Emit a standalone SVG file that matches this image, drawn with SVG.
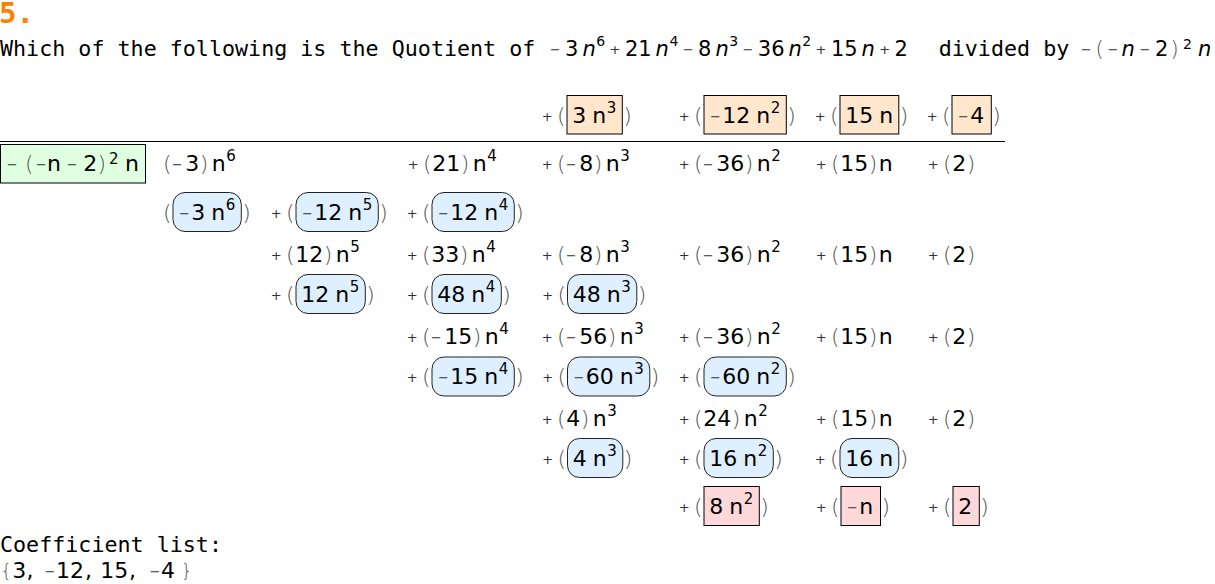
<svg xmlns="http://www.w3.org/2000/svg" width="1215" height="584" viewBox="0 0 1215 584">
<style>
.bg{fill:#fff}
.m{font-family:'DejaVu Sans','Liberation Sans',sans-serif;font-size:22px;fill:#000}
.m2{font-family:'DejaVu Sans','Liberation Sans',sans-serif;font-size:21px;fill:#000}
.o{font-size:13px;fill:#333}
.p{font-size:22px;fill:#555;font-weight:200}
.p2{font-size:21px;fill:#555;font-weight:200}
.br{font-size:18px;fill:#555;font-weight:200}
.s{font-size:15px}
.s2{font-size:14px}
.i{font-style:italic}
.t{font-family:'DejaVu Sans Mono','Liberation Mono',monospace;font-size:21.7px;fill:#000}
.h{font-family:'DejaVu Sans Mono','Liberation Mono',monospace;font-size:29px;font-weight:bold;fill:#FF8000}
.q{fill:#FFE6CC;stroke:#000;stroke-width:1}
.g{fill:#E0FFE0;stroke:#000;stroke-width:1}
.b{fill:#DEEFFF;stroke:#222;stroke-width:1}
.r{fill:#FFD9D9;stroke:#000;stroke-width:1}
.rule{stroke:#000;stroke-width:1}
</style>
<rect class="bg" x="0" y="0" width="1215" height="584"/>

<g id="header">
<text class="h" x="-1" y="23">5.</text>
<text class="t" x="0" y="56">Which of the following is the Quotient of</text>
<text class="m2"><tspan class="o" x="549.8" y="54">−</tspan><tspan x="565.1" y="56">3</tspan><tspan class="i" x="582.5" y="56">n</tspan><tspan class="s2" x="596.3" y="45.5">6</tspan><tspan class="o" x="609.6" y="54">+</tspan><tspan x="624.9" y="56">21</tspan><tspan class="i" x="655.6" y="56">n</tspan><tspan class="s2" x="669.4" y="45.5">4</tspan><tspan class="o" x="682.7" y="54">−</tspan><tspan x="698" y="56">8</tspan><tspan class="i" x="715.4" y="56">n</tspan><tspan class="s2" x="729.2" y="45.5">3</tspan><tspan class="o" x="742.5" y="54">−</tspan><tspan x="757.8" y="56">36</tspan><tspan class="i" x="788.5" y="56">n</tspan><tspan class="s2" x="802.3" y="45.5">2</tspan><tspan class="o" x="815.6" y="54">+</tspan><tspan x="830.9" y="56">15</tspan><tspan class="i" x="861.6" y="56">n</tspan><tspan class="o" x="879.3" y="54">+</tspan><tspan x="894.6" y="56">2</tspan></text>
<text class="t" x="938.7" y="56">divided by</text>
<text class="m2"><tspan class="o" x="1080.8" y="54">−</tspan><tspan class="p2" x="1095.5" y="56">(</tspan><tspan class="o" x="1107.5" y="54">−</tspan><tspan class="i" x="1121.5" y="56">n</tspan><tspan class="o" x="1139.5" y="54">−</tspan><tspan x="1155" y="56">2</tspan><tspan class="p2" x="1170.5" y="56">)</tspan><tspan class="s2" x="1183" y="48.5">2</tspan><tspan class="i" x="1198" y="56">n</tspan></text>
</g>

<g id="quotient">
<rect class="q" x="567" y="95.5" width="55.3" height="38.5"/>
<rect class="q" x="704" y="95.5" width="82.3" height="38.5"/>
<rect class="q" x="840" y="95.5" width="58.8" height="38.5"/>
<rect class="q" x="952" y="95.5" width="39.3" height="38.5"/>
<text class="m"><tspan class="o" x="541.7" y="121">+</tspan><tspan class="p" x="557.1" y="123">(</tspan><tspan x="572.3" y="123">3</tspan><tspan x="592.3" y="123">n</tspan><tspan class="s" x="606.8" y="112.5">3</tspan><tspan class="p" x="623.3" y="123">)</tspan></text>
<text class="m"><tspan class="o" x="678.7" y="121">+</tspan><tspan class="p" x="694.1" y="123">(</tspan><tspan class="o" x="710" y="121">−</tspan><tspan x="722.3" y="123">12</tspan><tspan x="756.3" y="123">n</tspan><tspan class="s" x="770.8" y="112.5">2</tspan><tspan class="p" x="787.3" y="123">)</tspan></text>
<text class="m"><tspan class="o" x="814.7" y="121">+</tspan><tspan class="p" x="830.1" y="123">(</tspan><tspan x="845.3" y="123">15</tspan><tspan x="879.3" y="123">n</tspan><tspan class="p" x="899.8" y="123">)</tspan></text>
<text class="m"><tspan class="o" x="926.7" y="121">+</tspan><tspan class="p" x="942.1" y="123">(</tspan><tspan class="o" x="958" y="121">−</tspan><tspan x="970.3" y="123">4</tspan><tspan class="p" x="992.3" y="123">)</tspan></text>
</g>

<line class="rule" x1="0" y1="141.5" x2="1005" y2="141.5"/>

<g id="divisor">
<rect class="g" x="0.5" y="144.5" width="145" height="38.5"/>
<text class="m"><tspan class="o" x="6.7" y="169">−</tspan><tspan class="p" x="25.1" y="171">(</tspan><tspan class="o" x="35.7" y="169">−</tspan><tspan x="47" y="171">n</tspan><tspan class="o" x="66.7" y="169">−</tspan><tspan x="83.3" y="171">2</tspan><tspan class="p" x="97.5" y="171">)</tspan><tspan class="s" x="109" y="163.5">2</tspan><tspan x="125" y="171">n</tspan></text>
</g>

<g id="dividend">
<text class="m"><tspan class="p" x="163.1" y="171">(</tspan><tspan class="o" x="171.8" y="169">−</tspan><tspan x="185.3" y="171">3</tspan><tspan class="p" x="199.8" y="171">)</tspan><tspan x="211.8" y="171">n</tspan><tspan class="s" x="226.3" y="160.5">6</tspan></text>
<text class="m"><tspan class="o" x="407.7" y="169">+</tspan><tspan class="p" x="423.1" y="171">(</tspan><tspan x="432.3" y="171">21</tspan><tspan class="p" x="460.8" y="171">)</tspan><tspan x="472.8" y="171">n</tspan><tspan class="s" x="487.3" y="160.5">4</tspan></text>
<text class="m"><tspan class="o" x="541.7" y="169">+</tspan><tspan class="p" x="557.1" y="171">(</tspan><tspan class="o" x="565.8" y="169">−</tspan><tspan x="579.3" y="171">8</tspan><tspan class="p" x="593.8" y="171">)</tspan><tspan x="605.8" y="171">n</tspan><tspan class="s" x="620.3" y="160.5">3</tspan></text>
<text class="m"><tspan class="o" x="678.7" y="169">+</tspan><tspan class="p" x="694.1" y="171">(</tspan><tspan class="o" x="702.8" y="169">−</tspan><tspan x="716.3" y="171">36</tspan><tspan class="p" x="744.8" y="171">)</tspan><tspan x="756.8" y="171">n</tspan><tspan class="s" x="771.3" y="160.5">2</tspan></text>
<text class="m"><tspan class="o" x="815.7" y="169">+</tspan><tspan class="p" x="831.1" y="171">(</tspan><tspan x="840.3" y="171">15</tspan><tspan class="p" x="868.8" y="171">)</tspan><tspan x="878.8" y="171">n</tspan></text>
<text class="m"><tspan class="o" x="927.7" y="169">+</tspan><tspan class="p" x="943.1" y="171">(</tspan><tspan x="952.3" y="171">2</tspan><tspan class="p" x="966.8" y="171">)</tspan></text>
</g>

<g id="step1">
<rect class="b" x="173" y="192.5" width="68.3" height="39" rx="12"/>
<rect class="b" x="296" y="192.5" width="82.3" height="39" rx="12"/>
<rect class="b" x="432" y="192.5" width="82.3" height="39" rx="12"/>
<text class="m"><tspan class="p" x="163.1" y="220">(</tspan><tspan class="o" x="179" y="218">−</tspan><tspan x="191.3" y="220">3</tspan><tspan x="211.3" y="220">n</tspan><tspan class="s" x="225.8" y="209.5">6</tspan><tspan class="p" x="242.3" y="220">)</tspan></text>
<text class="m"><tspan class="o" x="270.7" y="218">+</tspan><tspan class="p" x="286.1" y="220">(</tspan><tspan class="o" x="302" y="218">−</tspan><tspan x="314.3" y="220">12</tspan><tspan x="348.3" y="220">n</tspan><tspan class="s" x="362.8" y="209.5">5</tspan><tspan class="p" x="379.3" y="220">)</tspan></text>
<text class="m"><tspan class="o" x="406.7" y="218">+</tspan><tspan class="p" x="422.1" y="220">(</tspan><tspan class="o" x="438" y="218">−</tspan><tspan x="450.3" y="220">12</tspan><tspan x="484.3" y="220">n</tspan><tspan class="s" x="498.8" y="209.5">4</tspan><tspan class="p" x="515.3" y="220">)</tspan></text>
</g>

<g id="remainder1">
<text class="m"><tspan class="o" x="270.7" y="260">+</tspan><tspan class="p" x="286.1" y="262">(</tspan><tspan x="295.3" y="262">12</tspan><tspan class="p" x="323.8" y="262">)</tspan><tspan x="335.8" y="262">n</tspan><tspan class="s" x="350.3" y="251.5">5</tspan></text>
<text class="m"><tspan class="o" x="406.7" y="260">+</tspan><tspan class="p" x="422.1" y="262">(</tspan><tspan x="431.3" y="262">33</tspan><tspan class="p" x="459.8" y="262">)</tspan><tspan x="471.8" y="262">n</tspan><tspan class="s" x="486.3" y="251.5">4</tspan></text>
<text class="m"><tspan class="o" x="541.7" y="260">+</tspan><tspan class="p" x="557.1" y="262">(</tspan><tspan class="o" x="565.8" y="260">−</tspan><tspan x="579.3" y="262">8</tspan><tspan class="p" x="593.8" y="262">)</tspan><tspan x="605.8" y="262">n</tspan><tspan class="s" x="620.3" y="251.5">3</tspan></text>
<text class="m"><tspan class="o" x="678.7" y="260">+</tspan><tspan class="p" x="694.1" y="262">(</tspan><tspan class="o" x="702.8" y="260">−</tspan><tspan x="716.3" y="262">36</tspan><tspan class="p" x="744.8" y="262">)</tspan><tspan x="756.8" y="262">n</tspan><tspan class="s" x="771.3" y="251.5">2</tspan></text>
<text class="m"><tspan class="o" x="815.7" y="260">+</tspan><tspan class="p" x="831.1" y="262">(</tspan><tspan x="840.3" y="262">15</tspan><tspan class="p" x="868.8" y="262">)</tspan><tspan x="878.8" y="262">n</tspan></text>
<text class="m"><tspan class="o" x="927.7" y="260">+</tspan><tspan class="p" x="943.1" y="262">(</tspan><tspan x="952.3" y="262">2</tspan><tspan class="p" x="966.8" y="262">)</tspan></text>
</g>

<g id="step2">
<rect class="b" x="296" y="274.5" width="69.3" height="39" rx="12"/>
<rect class="b" x="432" y="274.5" width="69.3" height="39" rx="12"/>
<rect class="b" x="567.5" y="274.5" width="69.3" height="39" rx="12"/>
<text class="m"><tspan class="o" x="270.7" y="300">+</tspan><tspan class="p" x="286.1" y="302">(</tspan><tspan x="301.3" y="302">12</tspan><tspan x="335.3" y="302">n</tspan><tspan class="s" x="349.8" y="291.5">5</tspan><tspan class="p" x="366.3" y="302">)</tspan></text>
<text class="m"><tspan class="o" x="406.7" y="300">+</tspan><tspan class="p" x="422.1" y="302">(</tspan><tspan x="437.3" y="302">48</tspan><tspan x="471.3" y="302">n</tspan><tspan class="s" x="485.8" y="291.5">4</tspan><tspan class="p" x="502.3" y="302">)</tspan></text>
<text class="m"><tspan class="o" x="542.2" y="300">+</tspan><tspan class="p" x="557.6" y="302">(</tspan><tspan x="572.8" y="302">48</tspan><tspan x="606.8" y="302">n</tspan><tspan class="s" x="621.3" y="291.5">3</tspan><tspan class="p" x="637.8" y="302">)</tspan></text>
</g>

<g id="remainder2">
<text class="m"><tspan class="o" x="406.7" y="342">+</tspan><tspan class="p" x="422.1" y="344">(</tspan><tspan class="o" x="430.8" y="342">−</tspan><tspan x="444.3" y="344">15</tspan><tspan class="p" x="472.8" y="344">)</tspan><tspan x="484.8" y="344">n</tspan><tspan class="s" x="499.3" y="333.5">4</tspan></text>
<text class="m"><tspan class="o" x="541.7" y="342">+</tspan><tspan class="p" x="557.1" y="344">(</tspan><tspan class="o" x="565.8" y="342">−</tspan><tspan x="579.3" y="344">56</tspan><tspan class="p" x="607.8" y="344">)</tspan><tspan x="619.8" y="344">n</tspan><tspan class="s" x="634.3" y="333.5">3</tspan></text>
<text class="m"><tspan class="o" x="678.7" y="342">+</tspan><tspan class="p" x="694.1" y="344">(</tspan><tspan class="o" x="702.8" y="342">−</tspan><tspan x="716.3" y="344">36</tspan><tspan class="p" x="744.8" y="344">)</tspan><tspan x="756.8" y="344">n</tspan><tspan class="s" x="771.3" y="333.5">2</tspan></text>
<text class="m"><tspan class="o" x="815.7" y="342">+</tspan><tspan class="p" x="831.1" y="344">(</tspan><tspan x="840.3" y="344">15</tspan><tspan class="p" x="868.8" y="344">)</tspan><tspan x="878.8" y="344">n</tspan></text>
<text class="m"><tspan class="o" x="927.7" y="342">+</tspan><tspan class="p" x="943.1" y="344">(</tspan><tspan x="952.3" y="344">2</tspan><tspan class="p" x="966.8" y="344">)</tspan></text>
</g>

<g id="step3">
<rect class="b" x="432" y="357" width="82.3" height="39" rx="12"/>
<rect class="b" x="567.5" y="357" width="82.3" height="39" rx="12"/>
<rect class="b" x="704" y="357" width="82.3" height="39" rx="12"/>
<text class="m"><tspan class="o" x="406.7" y="382">+</tspan><tspan class="p" x="422.1" y="384">(</tspan><tspan class="o" x="438" y="382">−</tspan><tspan x="450.3" y="384">15</tspan><tspan x="484.3" y="384">n</tspan><tspan class="s" x="498.8" y="373.5">4</tspan><tspan class="p" x="515.3" y="384">)</tspan></text>
<text class="m"><tspan class="o" x="542.2" y="382">+</tspan><tspan class="p" x="557.6" y="384">(</tspan><tspan class="o" x="573.5" y="382">−</tspan><tspan x="585.8" y="384">60</tspan><tspan x="619.8" y="384">n</tspan><tspan class="s" x="634.3" y="373.5">3</tspan><tspan class="p" x="650.8" y="384">)</tspan></text>
<text class="m"><tspan class="o" x="678.7" y="382">+</tspan><tspan class="p" x="694.1" y="384">(</tspan><tspan class="o" x="710" y="382">−</tspan><tspan x="722.3" y="384">60</tspan><tspan x="756.3" y="384">n</tspan><tspan class="s" x="770.8" y="373.5">2</tspan><tspan class="p" x="787.3" y="384">)</tspan></text>
</g>

<g id="remainder3">
<text class="m"><tspan class="o" x="541.7" y="424">+</tspan><tspan class="p" x="557.1" y="426">(</tspan><tspan x="566.3" y="426">4</tspan><tspan class="p" x="580.8" y="426">)</tspan><tspan x="592.8" y="426">n</tspan><tspan class="s" x="607.3" y="415.5">3</tspan></text>
<text class="m"><tspan class="o" x="678.7" y="424">+</tspan><tspan class="p" x="694.1" y="426">(</tspan><tspan x="703.3" y="426">24</tspan><tspan class="p" x="731.8" y="426">)</tspan><tspan x="743.8" y="426">n</tspan><tspan class="s" x="758.3" y="415.5">2</tspan></text>
<text class="m"><tspan class="o" x="815.7" y="424">+</tspan><tspan class="p" x="831.1" y="426">(</tspan><tspan x="840.3" y="426">15</tspan><tspan class="p" x="868.8" y="426">)</tspan><tspan x="878.8" y="426">n</tspan></text>
<text class="m"><tspan class="o" x="927.7" y="424">+</tspan><tspan class="p" x="943.1" y="426">(</tspan><tspan x="952.3" y="426">2</tspan><tspan class="p" x="966.8" y="426">)</tspan></text>
</g>

<g id="step4">
<rect class="b" x="567.5" y="438.5" width="55.3" height="39" rx="12"/>
<rect class="b" x="704" y="438.5" width="69.3" height="39" rx="12"/>
<rect class="b" x="840" y="438.5" width="58.8" height="39" rx="12"/>
<text class="m"><tspan class="o" x="542.2" y="464">+</tspan><tspan class="p" x="557.6" y="466">(</tspan><tspan x="572.8" y="466">4</tspan><tspan x="592.8" y="466">n</tspan><tspan class="s" x="607.3" y="455.5">3</tspan><tspan class="p" x="623.8" y="466">)</tspan></text>
<text class="m"><tspan class="o" x="678.7" y="464">+</tspan><tspan class="p" x="694.1" y="466">(</tspan><tspan x="709.3" y="466">16</tspan><tspan x="743.3" y="466">n</tspan><tspan class="s" x="757.8" y="455.5">2</tspan><tspan class="p" x="774.3" y="466">)</tspan></text>
<text class="m"><tspan class="o" x="814.7" y="464">+</tspan><tspan class="p" x="830.1" y="466">(</tspan><tspan x="845.3" y="466">16</tspan><tspan x="879.3" y="466">n</tspan><tspan class="p" x="899.8" y="466">)</tspan></text>
</g>

<g id="remainder">
<rect class="r" x="704" y="486.5" width="55.3" height="39"/>
<rect class="r" x="841" y="486.5" width="39.5" height="39"/>
<rect class="r" x="953" y="486.5" width="26.3" height="39"/>
<text class="m"><tspan class="o" x="678.7" y="512">+</tspan><tspan class="p" x="694.1" y="514">(</tspan><tspan x="709.3" y="514">8</tspan><tspan x="729.3" y="514">n</tspan><tspan class="s" x="743.8" y="503.5">2</tspan><tspan class="p" x="760.3" y="514">)</tspan></text>
<text class="m"><tspan class="o" x="815.7" y="512">+</tspan><tspan class="p" x="831.1" y="514">(</tspan><tspan class="o" x="847" y="512">−</tspan><tspan x="859.3" y="514">n</tspan><tspan class="p" x="881.5" y="514">)</tspan></text>
<text class="m"><tspan class="o" x="927.7" y="512">+</tspan><tspan class="p" x="943.1" y="514">(</tspan><tspan x="958.3" y="514">2</tspan><tspan class="p" x="980.3" y="514">)</tspan></text>
</g>

<g id="coefficients">
<text class="t" x="0" y="552">Coefficient list:</text>
<text class="m"><tspan class="br" x="0.5" y="577">{</tspan><tspan x="12.2" y="578">3</tspan><tspan x="26.5" y="578">,</tspan><tspan class="o" x="44.5" y="576">−</tspan><tspan x="56" y="578">12</tspan><tspan x="85" y="578">,</tspan><tspan x="100.3" y="578">15</tspan><tspan x="129" y="578">,</tspan><tspan class="o" x="149.5" y="576">−</tspan><tspan x="161" y="578">4</tspan><tspan class="br" x="181" y="577">}</tspan></text>
</g>
</svg>
